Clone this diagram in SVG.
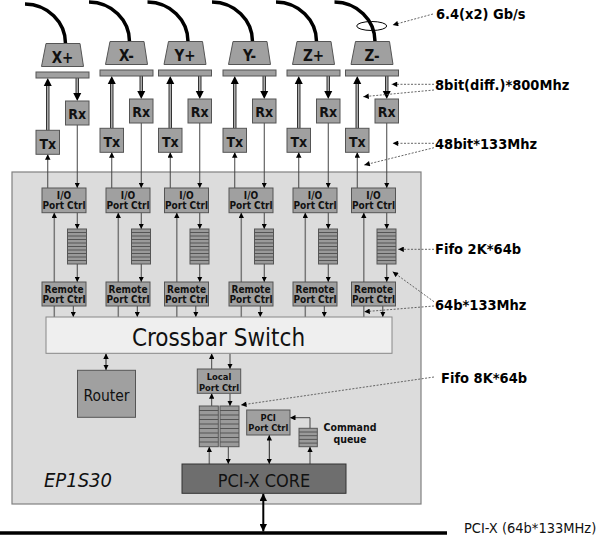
<svg xmlns="http://www.w3.org/2000/svg" width="598" height="537" viewBox="0 0 598 537">
<style>
.box{fill:#a0a0a0;stroke:#555;stroke-width:1}
.fifo{fill:#9a9a9a;stroke:#555;stroke-width:1}
.rows{fill:none;stroke:#555;stroke-width:1}
.t{font-family:"DejaVu Sans Condensed","DejaVu Sans",sans-serif;font-stretch:condensed;text-anchor:middle;fill:#111}
.b{font-weight:bold}
.s9{font-size:10px}
.s8{font-size:9.3px}
.s13{font-size:14px}
.s15{font-size:15px}
.note{font-family:"DejaVu Sans Condensed","DejaVu Sans",sans-serif;font-stretch:condensed;font-weight:bold;font-size:14.5px;fill:#000}
.cable{fill:none;stroke:#000;stroke-width:3.5}
.thin{fill:none;stroke:#444;stroke-width:1;marker-end:url(#a)}
.grey{fill:none;stroke:#777;stroke-width:1.5;marker-end:url(#a)}
.both{fill:none;stroke:#222;stroke-width:1;marker-start:url(#a);marker-end:url(#a)}
.dbo{stroke:#333;stroke-width:3.5}
.dbi{stroke:#aaa;stroke-width:1.5}
.head{fill:#000}
.lead{fill:none;stroke:#555;stroke-width:0.9;stroke-dasharray:2 1.5;marker-end:url(#la)}
</style>
<defs>
<marker id="a" viewBox="0 0 10 10" refX="10" refY="5" markerWidth="5.5" markerHeight="5.5" markerUnits="userSpaceOnUse" orient="auto-start-reverse"><path d="M0,0 L10,5 L0,10 z" fill="#000"/></marker>
<marker id="la" viewBox="0 0 10 10" refX="10" refY="5" markerWidth="7" markerHeight="5.5" markerUnits="userSpaceOnUse" orient="auto"><path d="M0,0 L10,5 L0,10 z" fill="#000"/></marker>
<marker id="ab" viewBox="0 0 10 10" refX="10" refY="5" markerWidth="7.5" markerHeight="7.5" markerUnits="userSpaceOnUse" orient="auto-start-reverse"><path d="M0,0 L10,5 L0,10 z" fill="#000"/></marker>
<g id="fifo10"><rect class="fifo" x="0" y="0" width="19" height="35"/><path class="rows" d="M0,3.5h19M0,7h19M0,10.5h19M0,14h19M0,17.5h19M0,21h19M0,24.5h19M0,28h19M0,31.5h19"/></g>
<g id="fifo9"><rect class="fifo" x="0" y="0" width="19" height="40.7"/><path class="rows" d="M0,4.5h19M0,9h19M0,13.5h19M0,18h19M0,22.5h19M0,27h19M0,31.5h19M0,36h19"/></g>
</defs>

<g id="board">
<rect x="12" y="172" width="409" height="332" fill="#dcdcdc" stroke="#808080" stroke-width="1.2"/>
<text x="44" y="487.3" font-family="DejaVu Sans Condensed, DejaVu Sans, sans-serif" font-stretch="condensed" font-style="italic" font-size="20" fill="#111">EP1S30</text>
</g>

<g id="connectors">
<path class="cable" d="M25,4 A41,39.5 0 0 1 65.5,43.5"/>
<path class="cable" d="M89,2 A41,39.5 0 0 1 129.5,41.5"/>
<path class="cable" d="M147.5,2 A41,39.5 0 0 1 188,41.5"/>
<path class="cable" d="M212,2 A41,39.5 0 0 1 252.5,41.5"/>
<path class="cable" d="M276,2 A41,39.5 0 0 1 316.5,41.5"/>
<path class="cable" d="M334.5,2 A41,39.5 0 0 1 375,41.5"/>
<g>
<path class="dbo" d="M47.75,130.3V85M111.75,128.3V83M170.25,128.3V83M234.75,128.3V83M298.75,128.3V83M357.25,128.3V83"/>
<path class="dbi" d="M47.75,130.3V85M111.75,128.3V83M170.25,128.3V83M234.75,128.3V83M298.75,128.3V83M357.25,128.3V83"/>
<path class="head" d="M43.75,86L51.75,86L47.75,78zM107.75,84L115.75,84L111.75,76zM166.25,84L174.25,84L170.25,76zM230.75,84L238.75,84L234.75,76zM294.75,84L302.75,84L298.75,76zM353.25,84L361.25,84L357.25,76z"/>
</g>
<g>
<path class="dbo" d="M77.25,78V93M141.25,76V91M199.75,76V91M264.25,76V91M328.25,76V91M386.75,76V91"/>
<path class="dbi" d="M77.25,78V93M141.25,76V91M199.75,76V91M264.25,76V91M328.25,76V91M386.75,76V91"/>
<path class="head" d="M73.25,93L81.25,93L77.25,101zM137.25,91L145.25,91L141.25,99zM195.75,91L203.75,91L199.75,99zM260.25,91L268.25,91L264.25,99zM324.25,91L332.25,91L328.25,99zM382.75,91L390.75,91L386.75,99z"/>
</g>
<path class="thin" d="M47.75,188V154.3"/>
<path class="thin" d="M111.75,188V152.3"/>
<path class="thin" d="M170.25,188V152.3"/>
<path class="thin" d="M234.75,188V152.3"/>
<path class="thin" d="M298.75,188V152.3"/>
<path class="thin" d="M357.25,188V152.3"/>
<path class="thin" d="M77.25,125V188"/>
<path class="thin" d="M141.25,123V188"/>
<path class="thin" d="M199.75,123V188"/>
<path class="thin" d="M264.25,123V188"/>
<path class="thin" d="M328.25,123V188"/>
<path class="thin" d="M386.75,123V188"/>
<path class="thin" d="M77.25,212.7V229"/><path class="thin" d="M77.25,264V282"/>
<path class="thin" d="M141.25,212.7V229"/><path class="thin" d="M141.25,264V282"/>
<path class="thin" d="M199.75,212.7V229"/><path class="thin" d="M199.75,264V282"/>
<path class="thin" d="M264.25,212.7V229"/><path class="thin" d="M264.25,264V282"/>
<path class="thin" d="M328.25,212.7V229"/><path class="thin" d="M328.25,264V282"/>
<path class="thin" d="M386.75,212.7V229"/><path class="thin" d="M386.75,264V282"/>
<path class="thin" d="M73.3,306V317"/>
<path class="thin" d="M137.3,306V317"/>
<path class="thin" d="M195.8,306V317"/>
<path class="thin" d="M260.3,306V317"/>
<path class="thin" d="M324.3,306V317"/>
<path class="thin" d="M382.8,306V317"/>
<path class="grey" d="M54.3,317V212.7"/>
<path class="grey" d="M118.3,317V212.7"/>
<path class="grey" d="M176.8,317V212.7"/>
<path class="grey" d="M241.3,317V212.7"/>
<path class="grey" d="M305.3,317V212.7"/>
<path class="grey" d="M363.8,317V212.7"/>
<path class="both" d="M106,353.5V370"/>
<path class="thin" d="M211.7,369V353.5"/>
<path class="thin" d="M230,353.5V369"/>
<path class="thin" d="M211.7,406V393.3"/>
<path class="thin" d="M230,393.3V406"/>
<path class="grey" d="M209.3,464V446.7"/>
<path class="thin" d="M228.3,446.7V464"/>
<path class="both" d="M269.3,435V464"/>
<path class="thin" d="M310,464V446.7"/>
<path class="thin" d="M310,428.3V417.7H290"/>
<path d="M263.3,493.5V531.5" fill="none" stroke="#000" stroke-width="2" marker-start="url(#ab)" marker-end="url(#ab)"/>
<path d="M0,533H447" fill="none" stroke="#000" stroke-width="3.5"/>
</g>

<g id="conn-xp"><polygon class="box" points="46,43.5 80,43.5 83.5,66.5 41.5,66.5"/><text class="t b s15" x="62.5" y="63">X+</text></g>
<g id="conn-xm"><polygon class="box" points="110,41.5 144,41.5 147.5,64.5 105.5,64.5"/><text class="t b s15" x="126.5" y="61">X-</text></g>
<g id="conn-yp"><polygon class="box" points="168.5,41.5 202.5,41.5 206,64.5 164,64.5"/><text class="t b s15" x="185" y="61">Y+</text></g>
<g id="conn-ym"><polygon class="box" points="233,41.5 267,41.5 270.5,64.5 228.5,64.5"/><text class="t b s15" x="249.5" y="61">Y-</text></g>
<g id="conn-zp"><polygon class="box" points="297,41.5 331,41.5 334.5,64.5 292.5,64.5"/><text class="t b s15" x="313.5" y="61">Z+</text></g>
<g id="conn-zm"><polygon class="box" points="355.5,41.5 389.5,41.5 393,64.5 351,64.5"/><text class="t b s15" x="372" y="61">Z-</text></g>

<g id="bar-xp"><rect class="box" x="36" y="72" width="53" height="6"/></g>
<g id="bar-xm"><rect class="box" x="100" y="70" width="53" height="6"/></g>
<g id="bar-yp"><rect class="box" x="158.5" y="70" width="53" height="6"/></g>
<g id="bar-ym"><rect class="box" x="223" y="70" width="53" height="6"/></g>
<g id="bar-zp"><rect class="box" x="287" y="70" width="53" height="6"/></g>
<g id="bar-zm"><rect class="box" x="345.5" y="70" width="53" height="6"/></g>

<g id="tx-xp"><rect class="box" x="36" y="130.3" width="23.5" height="24"/><text class="t b s13" x="47.75" y="148.7">Tx</text></g>
<g id="tx-xm"><rect class="box" x="100" y="128.3" width="23.5" height="24"/><text class="t b s13" x="111.75" y="146.7">Tx</text></g>
<g id="tx-yp"><rect class="box" x="158.5" y="128.3" width="23.5" height="24"/><text class="t b s13" x="170.25" y="146.7">Tx</text></g>
<g id="tx-ym"><rect class="box" x="223" y="128.3" width="23.5" height="24"/><text class="t b s13" x="234.75" y="146.7">Tx</text></g>
<g id="tx-zp"><rect class="box" x="287" y="128.3" width="23.5" height="24"/><text class="t b s13" x="298.75" y="146.7">Tx</text></g>
<g id="tx-zm"><rect class="box" x="345.5" y="128.3" width="23.5" height="24"/><text class="t b s13" x="357.25" y="146.7">Tx</text></g>

<g id="rx-xp"><rect class="box" x="65.5" y="101" width="23.5" height="24"/><text class="t b s13" x="77.25" y="119.3">Rx</text></g>
<g id="rx-xm"><rect class="box" x="129.5" y="99" width="23.5" height="24"/><text class="t b s13" x="141.25" y="117.3">Rx</text></g>
<g id="rx-yp"><rect class="box" x="188" y="99" width="23.5" height="24"/><text class="t b s13" x="199.75" y="117.3">Rx</text></g>
<g id="rx-ym"><rect class="box" x="252.5" y="99" width="23.5" height="24"/><text class="t b s13" x="264.25" y="117.3">Rx</text></g>
<g id="rx-zp"><rect class="box" x="316.5" y="99" width="23.5" height="24"/><text class="t b s13" x="328.25" y="117.3">Rx</text></g>
<g id="rx-zm"><rect class="box" x="375" y="99" width="23.5" height="24"/><text class="t b s13" x="386.75" y="117.3">Rx</text></g>

<g id="io-xp"><rect class="box" x="42" y="188" width="44" height="24.7"/><text class="t b s9" x="64" y="198.7">I/O</text><text class="t b s9" x="64" y="209.2">Port Ctrl</text></g>
<g id="io-xm"><rect class="box" x="106" y="188" width="44" height="24.7"/><text class="t b s9" x="128" y="198.7">I/O</text><text class="t b s9" x="128" y="209.2">Port Ctrl</text></g>
<g id="io-yp"><rect class="box" x="164.5" y="188" width="44" height="24.7"/><text class="t b s9" x="186.5" y="198.7">I/O</text><text class="t b s9" x="186.5" y="209.2">Port Ctrl</text></g>
<g id="io-ym"><rect class="box" x="229" y="188" width="44" height="24.7"/><text class="t b s9" x="251" y="198.7">I/O</text><text class="t b s9" x="251" y="209.2">Port Ctrl</text></g>
<g id="io-zp"><rect class="box" x="293" y="188" width="44" height="24.7"/><text class="t b s9" x="315" y="198.7">I/O</text><text class="t b s9" x="315" y="209.2">Port Ctrl</text></g>
<g id="io-zm"><rect class="box" x="351.5" y="188" width="44" height="24.7"/><text class="t b s9" x="373.5" y="198.7">I/O</text><text class="t b s9" x="373.5" y="209.2">Port Ctrl</text></g>

<g id="fifo-xp"><use href="#fifo10" x="67.5" y="229"/></g>
<g id="fifo-xm"><use href="#fifo10" x="131.5" y="229"/></g>
<g id="fifo-yp"><use href="#fifo10" x="190" y="229"/></g>
<g id="fifo-ym"><use href="#fifo10" x="254.5" y="229"/></g>
<g id="fifo-zp"><use href="#fifo10" x="318.5" y="229"/></g>
<g id="fifo-zm"><use href="#fifo10" x="377" y="229"/></g>

<g id="rem-xp"><rect class="box" x="42" y="282" width="44" height="24"/><text class="t b s9" x="64" y="292.5">Remote</text><text class="t b s9" x="64" y="302.9">Port Ctrl</text></g>
<g id="rem-xm"><rect class="box" x="106" y="282" width="44" height="24"/><text class="t b s9" x="128" y="292.5">Remote</text><text class="t b s9" x="128" y="302.9">Port Ctrl</text></g>
<g id="rem-yp"><rect class="box" x="164.5" y="282" width="44" height="24"/><text class="t b s9" x="186.5" y="292.5">Remote</text><text class="t b s9" x="186.5" y="302.9">Port Ctrl</text></g>
<g id="rem-ym"><rect class="box" x="229" y="282" width="44" height="24"/><text class="t b s9" x="251" y="292.5">Remote</text><text class="t b s9" x="251" y="302.9">Port Ctrl</text></g>
<g id="rem-zp"><rect class="box" x="293" y="282" width="44" height="24"/><text class="t b s9" x="315" y="292.5">Remote</text><text class="t b s9" x="315" y="302.9">Port Ctrl</text></g>
<g id="rem-zm"><rect class="box" x="351.5" y="282" width="44" height="24"/><text class="t b s9" x="373.5" y="292.5">Remote</text><text class="t b s9" x="373.5" y="302.9">Port Ctrl</text></g>

<g id="crossbar"><rect x="46" y="317" width="346" height="36.3" fill="#efefef" stroke="#888" stroke-width="1"/><text class="t" font-size="24" x="218.5" y="345.7">Crossbar Switch</text></g>

<g id="router"><rect class="box" x="77.5" y="370.3" width="58" height="47"/><text class="t" font-size="15.5" x="106.5" y="401">Router</text></g>

<g id="local-port"><rect class="box" x="197.3" y="369" width="43.4" height="24.3"/><text class="t b s8" x="219" y="380">Local</text><text class="t b s8" x="219" y="390.7">Port Ctrl</text></g>

<g id="fifo-local-in"><use href="#fifo9" x="199.3" y="406"/></g>
<g id="fifo-local-out"><use href="#fifo9" x="220" y="406"/></g>

<g id="pci-port"><rect class="box" x="246.7" y="410" width="43.3" height="25"/><text class="t b s8" x="268.3" y="420.5">PCI</text><text class="t b s8" x="268.3" y="431">Port Ctrl</text></g>

<g id="cmd-queue"><rect class="fifo" x="299" y="428.3" width="18.3" height="18.4"/><path class="rows" d="M299,432h18.3M299,435.7h18.3M299,439.4h18.3M299,443.1h18.3"/><text class="t b" font-size="10.5" x="350" y="431">Command</text><text class="t b" font-size="10.5" x="350" y="442.7">queue</text></g>

<g id="pcix-core"><rect x="182" y="464" width="164" height="29.3" fill="#6e6e6e" stroke="#333" stroke-width="1"/><text class="t" font-size="18" x="264" y="486.5">PCI-X CORE</text></g>

<g id="annotations">
<ellipse cx="371.7" cy="26" rx="15" ry="4.5" fill="none" stroke="#000" stroke-width="1"/>
<path class="lead" d="M433,14L392.7,25"/>
<path class="lead" d="M434,84.3H391.7"/>
<path class="lead" d="M434,90L363.3,96.7"/>
<path class="lead" d="M434,143.3H392.7"/>
<path class="lead" d="M434,147.7L364.3,165"/>
<path class="lead" d="M434,249.3H398.3"/>
<path class="lead" d="M434,301.7L392.7,271.7"/>
<path class="lead" d="M434,306L364.3,311.7"/>
<path class="lead" d="M434,377L241,405"/>
<text class="note" x="436" y="19">6.4(x2) Gb/s</text>
<text class="note" x="435" y="90">8bit(diff.)*800Mhz</text>
<text class="note" x="435" y="149">48bit*133Mhz</text>
<text class="note" x="435" y="254">Fifo 2K*64b</text>
<text class="note" x="435" y="310">64b*133Mhz</text>
<text class="note" x="441" y="382.7">Fifo 8K*64b</text>
<text x="464" y="532.5" font-family="DejaVu Sans Condensed, DejaVu Sans, sans-serif" font-stretch="condensed" font-size="14.5" fill="#111">PCI-X (64b*133MHz)</text>
</g>
</svg>
